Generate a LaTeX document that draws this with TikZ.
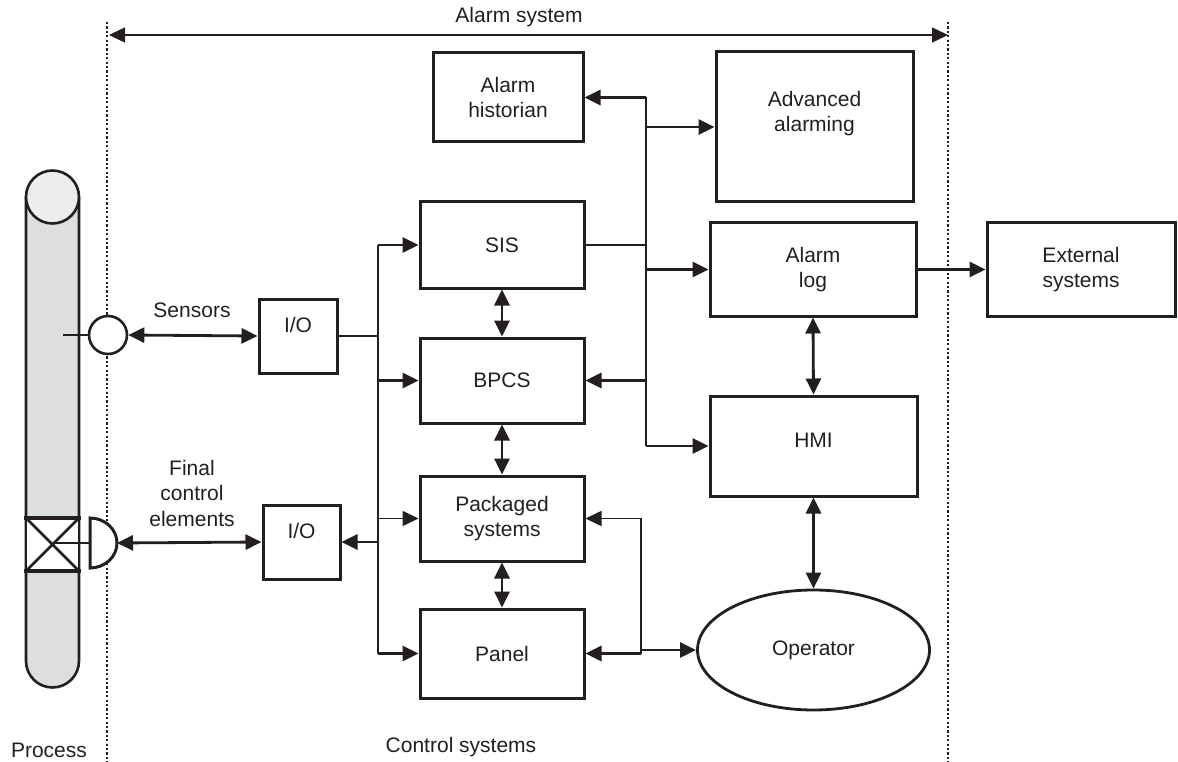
\documentclass[tikz,border=0pt]{standalone}
\usepackage{fontspec}
\setmainfont{Liberation Sans}
\usetikzlibrary{arrows.meta}
\usetikzlibrary{shapes.geometric}
\definecolor{ink}{HTML}{231F20}
\definecolor{pipegray}{HTML}{DCDEE0}
\definecolor{pipetop}{HTML}{ECEEEE}
\tikzstyle{block}=[draw, line width=3pt, align=center, inner sep=0, minimum width=164pt, minimum height=86pt]
\tikzstyle{iobox}=[block, minimum width=78pt, minimum height=74pt, text height=15pt, text depth=22pt]
\tikzstyle{link}=[line width=2.8pt]
\tikzstyle{thinlink}=[line width=1.6pt]
\tikzstyle{boundary}=[line width=2.6pt, dash pattern=on 2.2pt off 2.2pt]
\tikzstyle{alarmdiagram}=[x=1pt, y=-1pt, color=ink,
                          >={Triangle[length=16pt, width=15pt]},
                          % Same type size everywhere.
                          font=\fontsize{21}{25.5}\selectfont]

\begin{document}
\begin{tikzpicture}[alarmdiagram]
    \useasboundingbox (0, 0) rectangle (1178, 762);

    % Process column with valve.
    \draw[fill=pipegray, line width=2.6pt] (26, 197) -- (26, 661) arc[start angle=180, end angle=360, radius=26.5pt] -- (79, 197);
    \draw[fill=pipetop, line width=2.6pt] (52.5, 197) circle[radius=26.5pt];
    \fill[white] (26, 518) rectangle (79, 571);
    \draw[line width=2.6pt] (26, 518) -- (26, 571) (79, 518) -- (79, 571);
    \draw[line width=3.4pt] (24, 518) -- (81, 518) (24, 571) -- (81, 571);
    \draw[line width=2.8pt] (26, 518) -- (79, 571) (79, 518) -- (26, 571);
    \draw[link] (52.5, 543) -- (90, 543);

    % Boundaries.
    \draw[boundary] (107, 22) -- (107, 762);
    \draw[boundary] (948, 22) -- (948, 762);
    \coordinate (asL) at (109, 35);
    \coordinate (asR) at (948, 35);
    \draw[line width=1.5pt, <->] (asL) -- (asR);
    \node (asLabel) at (519, 17) {Alarm system};
    \node (procLabel) at (49, 750) {Process};
    \node (ctrlLabel) at (461, 747) {Control systems};

    % Field devices.
    \node[draw, circle, fill=white, line width=2.6pt, minimum size=38pt, inner sep=0] (sensor) at (108, 335) {};
    \coordinate (tap) at (63, 335);
    \draw[thinlink] (tap) -- (sensor.west);
    \draw[fill=white, line width=3pt] (90, 518) arc[start angle=90, end angle=-90, x radius=27pt, y radius=25pt] -- cycle;
    \coordinate (act) at (117, 543);
    \node (sensLabel) at (192, 310) {Sensors};
    \node[align=center] (fceLabel) at (192, 493) {Final\\control\\elements};

    \node[iobox]                  (ioSen) at (298, 336) {I/O};
    \node[iobox, minimum width=77pt] (ioAct) at (301.5, 542) {I/O};

    % Control systems.
    \node[block]                  (sis)   at (502, 245) {SIS};
    \node[block, minimum height=85pt] (bpcs) at (502, 380.5) {BPCS};
    \node[block, minimum height=85pt] (pkg)  at (502, 518.5) {Packaged\\systems};
    \node[block, minimum height=89pt] (panel) at (502, 653.5) {Panel};

    % Alarm functions.
    \node[block, minimum width=150pt, minimum height=89pt] (hist) at (508, 97.5) {Alarm\\historian};
    \node[block, minimum width=197pt, minimum height=150pt, text height=15pt, text depth=5.5pt] (adv) at (814.5, 127) {Advanced\\alarming};
    \node[block, minimum width=206pt, minimum height=93pt] (alog) at (813, 269.5) {Alarm\\log};
    \node[block, minimum width=207pt, minimum height=100pt, text height=15pt, text depth=12pt] (hmi) at (813.5, 446) {HMI};
    \node[block, minimum width=188pt, minimum height=93pt] (ext) at (1081, 269.5) {External\\systems};
    \node[draw, ellipse, line width=2.8pt, minimum width=232pt, minimum height=120pt, inner sep=0] (oper) at (813.5, 650) {Operator};

    % Field links.
    \draw[link, <->] (sensor.east) -- (ioSen.west);
    \draw[link, <->] (act) -- (ioAct.west);

    % Left bus.
    \coordinate (lbT) at (378, 245);
    \coordinate (lbB) at (378, 653.5);
    \draw[link] (lbT) -- (lbB);
    \draw[link] (ioSen.east) -- (lbT |- ioSen.east);
    \draw[link, ->] (lbT) -- (sis.west);
    \draw[link, ->] (lbT |- bpcs.west) -- (bpcs.west);
    \draw[thinlink, ->] (lbT |- pkg.west) -- (pkg.west);
    \draw[link, ->] (lbT |- ioAct.east) -- (ioAct.east);
    \draw[link, ->] (lbB) -- (panel.west);

    % Stack.
    \draw[link, <->] (sis.south) -- (bpcs.north);
    \draw[link, <->] (bpcs.south) -- (pkg.north);
    \draw[link, <->] (pkg.south) -- (panel.north);

    % Right bus.
    \coordinate (rbT) at (646, 97.5);
    \coordinate (rbB) at (646, 446);
    \draw[link] (rbT) -- (rbB);
    \draw[link, ->] (rbT) -- (hist.east);
    \draw[link, ->] (rbT |- adv.west) -- (adv.west);
    \draw[link] (sis.east) -- (rbT |- sis.east);
    \draw[link, ->] (rbT |- alog.west) -- (alog.west);
    \draw[link, ->] (rbT |- bpcs.east) -- (bpcs.east);
    \draw[link, ->] (rbB) -- (hmi.west);

    \draw[link, ->] (alog.east) -- (ext.west);
    \draw[link, <->] (alog.south) -- (hmi.north);
    \draw[link, <->] (hmi.south) -- (oper.north);

    % Panel and operator.
    \coordinate (pj) at (641, 653.5);
    \draw[link, ->] (pj) -- (panel.east);
    \draw[link, ->] (pj) |- (oper.west);
    \draw[thinlink, ->] (pj) |- (pkg.east);
\end{tikzpicture}
\end{document}
